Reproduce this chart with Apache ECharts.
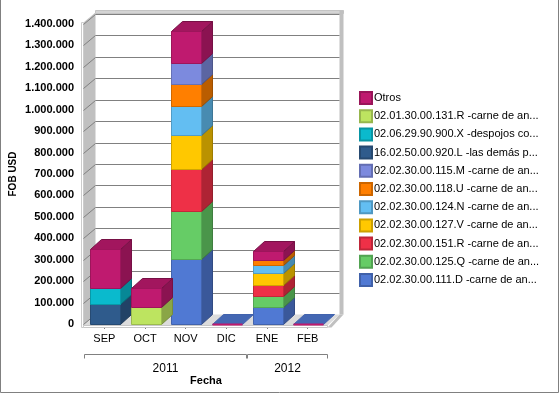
<!DOCTYPE html>
<html><head><meta charset="utf-8">
<script src="https://cdn.jsdelivr.net/npm/echarts@6/dist/echarts.min.js"></script>
<style>html,body{margin:0;padding:0;background:#fff}#c{width:560px;height:394px}</style>
</head><body><div id="c"></div>
<script>
// ---- data ----
const categories = ['SEP', 'OCT', 'NOV', 'DIC', 'ENE', 'FEB'];
const years = ['2011', '2011', '2011', '2011', '2012', '2012'];
const yMax = 1400000;
const yStep = 100000;

// stacking order: bottom -> top
const s111D = [0, 0, 302000, 0, 78000, 0];
const s125Q = [0, 0, 224000, 0, 53000, 0];
const s151R = [0, 0, 199000, 0, 51000, 0];
const s127V = [0, 0, 158000, 0, 57000, 0];
const s124N = [0, 0, 136000, 0, 37000, 0];
const s118U = [0, 0, 102000, 0, 21000, 0];
const s115M = [0, 0, 96000, 0, 0, 0];
const s920L = [92000, 0, 0, 0, 0, 0];
const s900X = [77000, 0, 0, 0, 0, 0];
const s131R = [0, 78000, 0, 0, 0, 0];
const sOtros = [182000, 89000, 149000, 0, 43000, 0];

const seriesDefs = [
  { name: '02.02.30.00.111.D -carne de an...', data: s111D, color: '#5079D3' },
  { name: '02.02.30.00.125.Q -carne de an...', data: s125Q, color: '#66CC66' },
  { name: '02.02.30.00.151.R -carne de an...', data: s151R, color: '#EE3047' },
  { name: '02.02.30.00.127.V -carne de an...', data: s127V, color: '#FFC800' },
  { name: '02.02.30.00.124.N -carne de an...', data: s124N, color: '#63BEF2' },
  { name: '02.02.30.00.118.U -carne de an...', data: s118U, color: '#FF7F00' },
  { name: '02.02.30.00.115.M -carne de an...', data: s115M, color: '#7C8ADE' },
  { name: '16.02.50.00.920.L -las demás p...', data: s920L, color: '#2F5B8C' },
  { name: '02.06.29.90.900.X -despojos co...', data: s900X, color: '#0ABACD' },
  { name: '02.01.30.00.131.R -carne de an...', data: s131R, color: '#BDE460' },
  { name: 'Otros', data: sOtros, color: '#BF1A6F' }
];

function shade(hex, f) {
  const n = parseInt(hex.slice(1), 16);
  const r = Math.round(((n >> 16) & 255) * f), g = Math.round(((n >> 8) & 255) * f), b = Math.round((n & 255) * f);
  return 'rgb(' + r + ',' + g + ',' + b + ')';
}
function fmt(v) { return String(v).replace(/\B(?=(\d{3})+(?!\d))/g, '.'); }

const totals = categories.map((c, i) => seriesDefs.reduce((s, d) => s + d.data[i], 0));
const base = categories.map(() => 0);
const nS = seriesDefs.length;

const yearGroups = [];
years.forEach((y, i) => {
  const last = yearGroups[yearGroups.length - 1];
  if (!last || last.name !== y) yearGroups.push({ name: y, start: i, end: i });
  else last.end = i;
});

const BDX = 11, BDY = 10;   // bar depth
const WDX = 12, WDY = 10;   // wall depth

function barRender(color, sIdx) {
  return function (params, api) {
    const i = api.value(0), lo = api.value(1), hi = api.value(2), tot = api.value(3);
    const band = api.size([1, 0])[0];
    const w = Math.round(band * 0.74);
    const c = api.coord([i, lo]), cH = api.coord([i, hi]);
    const x0 = Math.round(c[0] - w / 2 + 0.7) + 0.5;
    const yb = Math.round(c[1]) + 0.5, yt = Math.round(cH[1]) + 0.5;
    const side = shade(color, 0.73), top = shade(color, 0.85), edge = shade(color, 0.82), sedge = shade(color, 0.62);
    if (hi === lo) {
      if (tot === 0 && sIdx === 0) {
        return { type: 'polygon', shape: { points: [[x0, yb], [x0 + BDX, yb - BDY], [x0 + w + BDX, yb - BDY], [x0 + w, yb]] }, style: { fill: top, stroke: edge, lineWidth: 1 } };
      }
      if (tot === 0 && sIdx === nS - 1) {
        return { type: 'line', shape: { x1: x0, y1: yb, x2: x0 + w, y2: yb }, style: { stroke: color, lineWidth: 2 } };
      }
      return { type: 'group', children: [] };
    }
    return {
      type: 'group', children: [
        { type: 'polygon', shape: { points: [[x0 + w, yt], [x0 + w + BDX, yt - BDY], [x0 + w + BDX, yb - BDY], [x0 + w, yb]] }, style: { fill: side, stroke: sedge, lineWidth: 1 } },
        { type: 'polygon', shape: { points: [[x0, yt], [x0 + BDX, yt - BDY], [x0 + w + BDX, yt - BDY], [x0 + w, yt]] }, style: { fill: top, stroke: sedge, lineWidth: 1 } },
        { type: 'rect', shape: { x: x0, y: yt, width: w, height: yb - yt }, style: { fill: color, stroke: edge, lineWidth: 1 } }
      ]
    };
  };
}

function wallsRender(params, api) {
  const band = api.size([1, 0])[0];
  const c0 = api.coord([0, 0]), cN = api.coord([categories.length - 1, 0]);
  const xl = Math.round(c0[0] - band / 2) - 1 + 0.5;
  const xr = Math.round(cN[0] + band / 2) - 1 + 0.5;
  const y0 = Math.round(c0[1]) + 0.5;
  const yT = Math.round(api.coord([0, yMax])[1]) + 0.5;
  const ch = [];
  // floor
  ch.push({ type: 'polygon', shape: { points: [[xl, y0 + 1], [xl + WDX, y0 - WDY], [xr + WDX, y0 - WDY], [xr, y0 + 1]] }, style: { fill: '#dcdcdc' } });
  // left wall
  ch.push({ type: 'polygon', shape: { points: [[xl, y0 + 1], [xl, yT - 2], [xl + WDX, yT - WDY - 2], [xl + WDX, y0 - WDY]] }, style: { fill: '#c0c0c0' } });
  // back-wall top and right frame
  ch.push({ type: 'rect', shape: { x: xl + WDX, y: yT - WDY - 4, width: xr - xl + 4, height: 3 }, style: { fill: '#d4d4d4', stroke: '#c4c4c4', lineWidth: 1 } });
  ch.push({ type: 'rect', shape: { x: xr + WDX, y: yT - WDY - 4, width: 4, height: (y0 - WDY) - (yT - WDY - 4) }, style: { fill: '#c0c0c0' } });
  ch.push({ type: 'polygon', shape: { points: [[xr + WDX, y0 - WDY], [xr + WDX + 4, y0 - WDY], [xr + 4, y0 + 3], [xr, y0 + 3]] }, style: { fill: '#c0c0c0' } });
  // floor front strip
  ch.push({ type: 'rect', shape: { x: xl, y: y0 + 1, width: xr - xl, height: 2 }, style: { fill: '#ffffff', stroke: '#c8c8c8', lineWidth: 1 } });
  // left wall front strip
  ch.push({ type: 'rect', shape: { x: xl - 2, y: yT - 2, width: 2, height: y0 - yT + 5 }, style: { fill: '#ffffff', stroke: '#cccccc', lineWidth: 1 } });
  for (let v = 0; v <= yMax; v += yStep) {
    const y = Math.round(api.coord([0, v])[1]) + 0.5;
    ch.push({ type: 'line', shape: { x1: xl, y1: y, x2: xl + WDX, y2: y - WDY }, style: { stroke: '#808080', lineWidth: 1 } });
    if (v > 0) ch.push({ type: 'line', shape: { x1: xl + WDX, y1: y - WDY, x2: xr + WDX, y2: y - WDY }, style: { stroke: '#808080', lineWidth: 1 } });
  }
  return { type: 'group', children: ch };
}

function yearsRender(params, api) {
  const g = yearGroups[params.dataIndex];
  const band = api.size([1, 0])[0];
  const a = api.coord([g.start, 0]), b = api.coord([g.end, 0]);
  const L = Math.round(a[0] - band / 2) + 0.5, R = Math.round(b[0] + band / 2) - 0.5;
  const y = Math.round(a[1] + 30) + 0.5;
  return {
    type: 'group', children: [
      { type: 'line', shape: { x1: L, y1: y, x2: R, y2: y }, style: { stroke: '#808080', lineWidth: 1 } },
      { type: 'line', shape: { x1: L, y1: y, x2: L, y2: y + 4 }, style: { stroke: '#808080', lineWidth: 1 } },
      { type: 'line', shape: { x1: R, y1: y, x2: R, y2: y + 4 }, style: { stroke: '#808080', lineWidth: 1 } },
      { type: 'text', style: { x: (L + R) / 2, y: y + 14, text: g.name, align: 'center', verticalAlign: 'middle', fill: '#000', font: '12px "Liberation Sans", Arial, sans-serif' } }
    ]
  };
}

const series = [];
series.push({ name: '_walls', type: 'custom', silent: true, renderItem: wallsRender, data: [[0, 0]], encode: { x: 0, y: 1 }, z: 1 });
seriesDefs.forEach((d, sIdx) => {
  const data = categories.map((c, i) => {
    const lo = base[i], hi = base[i] + d.data[i];
    base[i] = hi;
    return [i, lo, hi, totals[i]];
  });
  series.push({
    name: d.name, type: 'custom', renderItem: barRender(d.color, sIdx), data: data,
    encode: { x: 0, y: [1, 2] }, z: 2,
    itemStyle: { color: d.color, borderColor: shade(d.color, 0.8), borderWidth: 1 }
  });
});
series.push({ name: '_years', type: 'custom', silent: true, renderItem: yearsRender, data: yearGroups.map(g => [g.start, 0]), encode: { x: 0, y: 1 }, z: 3 });

const chart = echarts.init(document.getElementById('c'), null, { renderer: 'canvas' });
chart.setOption({
  animation: false,
  backgroundColor: '#ffffff',
  textStyle: { fontFamily: '"Liberation Sans", Arial, sans-serif' },
  grid: { left: 84, top: 24, width: 244, height: 300, containLabel: false },
  xAxis: {
    type: 'category', data: categories, boundaryGap: true, offset: 2,
    axisLine: { show: false },
    axisTick: { show: true, alignWithLabel: true, length: 5, lineStyle: { color: '#808080' } },
    axisLabel: { color: '#000', fontSize: 11, margin: 7 },
    name: 'Fecha', nameLocation: 'middle', nameGap: 49,
    nameTextStyle: { color: '#000', fontSize: 11, fontWeight: 'bold' },
    splitLine: { show: false }
  },
  yAxis: {
    type: 'value', min: 0, max: yMax, interval: yStep, offset: 2,
    axisLine: { show: false }, axisTick: { show: false }, splitLine: { show: false },
    axisLabel: { color: '#000', fontSize: 11, fontWeight: 'bold', margin: 8, formatter: fmt },
    name: 'FOB USD', nameLocation: 'middle', nameGap: 64, nameRotate: 90,
    nameTextStyle: { color: '#000', fontSize: 10, fontWeight: 'bold' }
  },
  legend: {
    orient: 'vertical', left: 354, top: 86, itemWidth: 12, itemHeight: 12, itemGap: 4.2,
    icon: 'rect', selectedMode: false,
    data: seriesDefs.map(d => d.name).reverse(),
    textStyle: { color: '#000', fontSize: 11, padding: [0, 0, 0, -3] }
  },
  graphic: [{ type: 'rect', silent: true, z: 100, shape: { x: 0.5, y: -2, width: 558, height: 394.5 }, style: { fill: 'none', stroke: '#808080', lineWidth: 1 } }],
  series: series
});
</script>
</body></html>
